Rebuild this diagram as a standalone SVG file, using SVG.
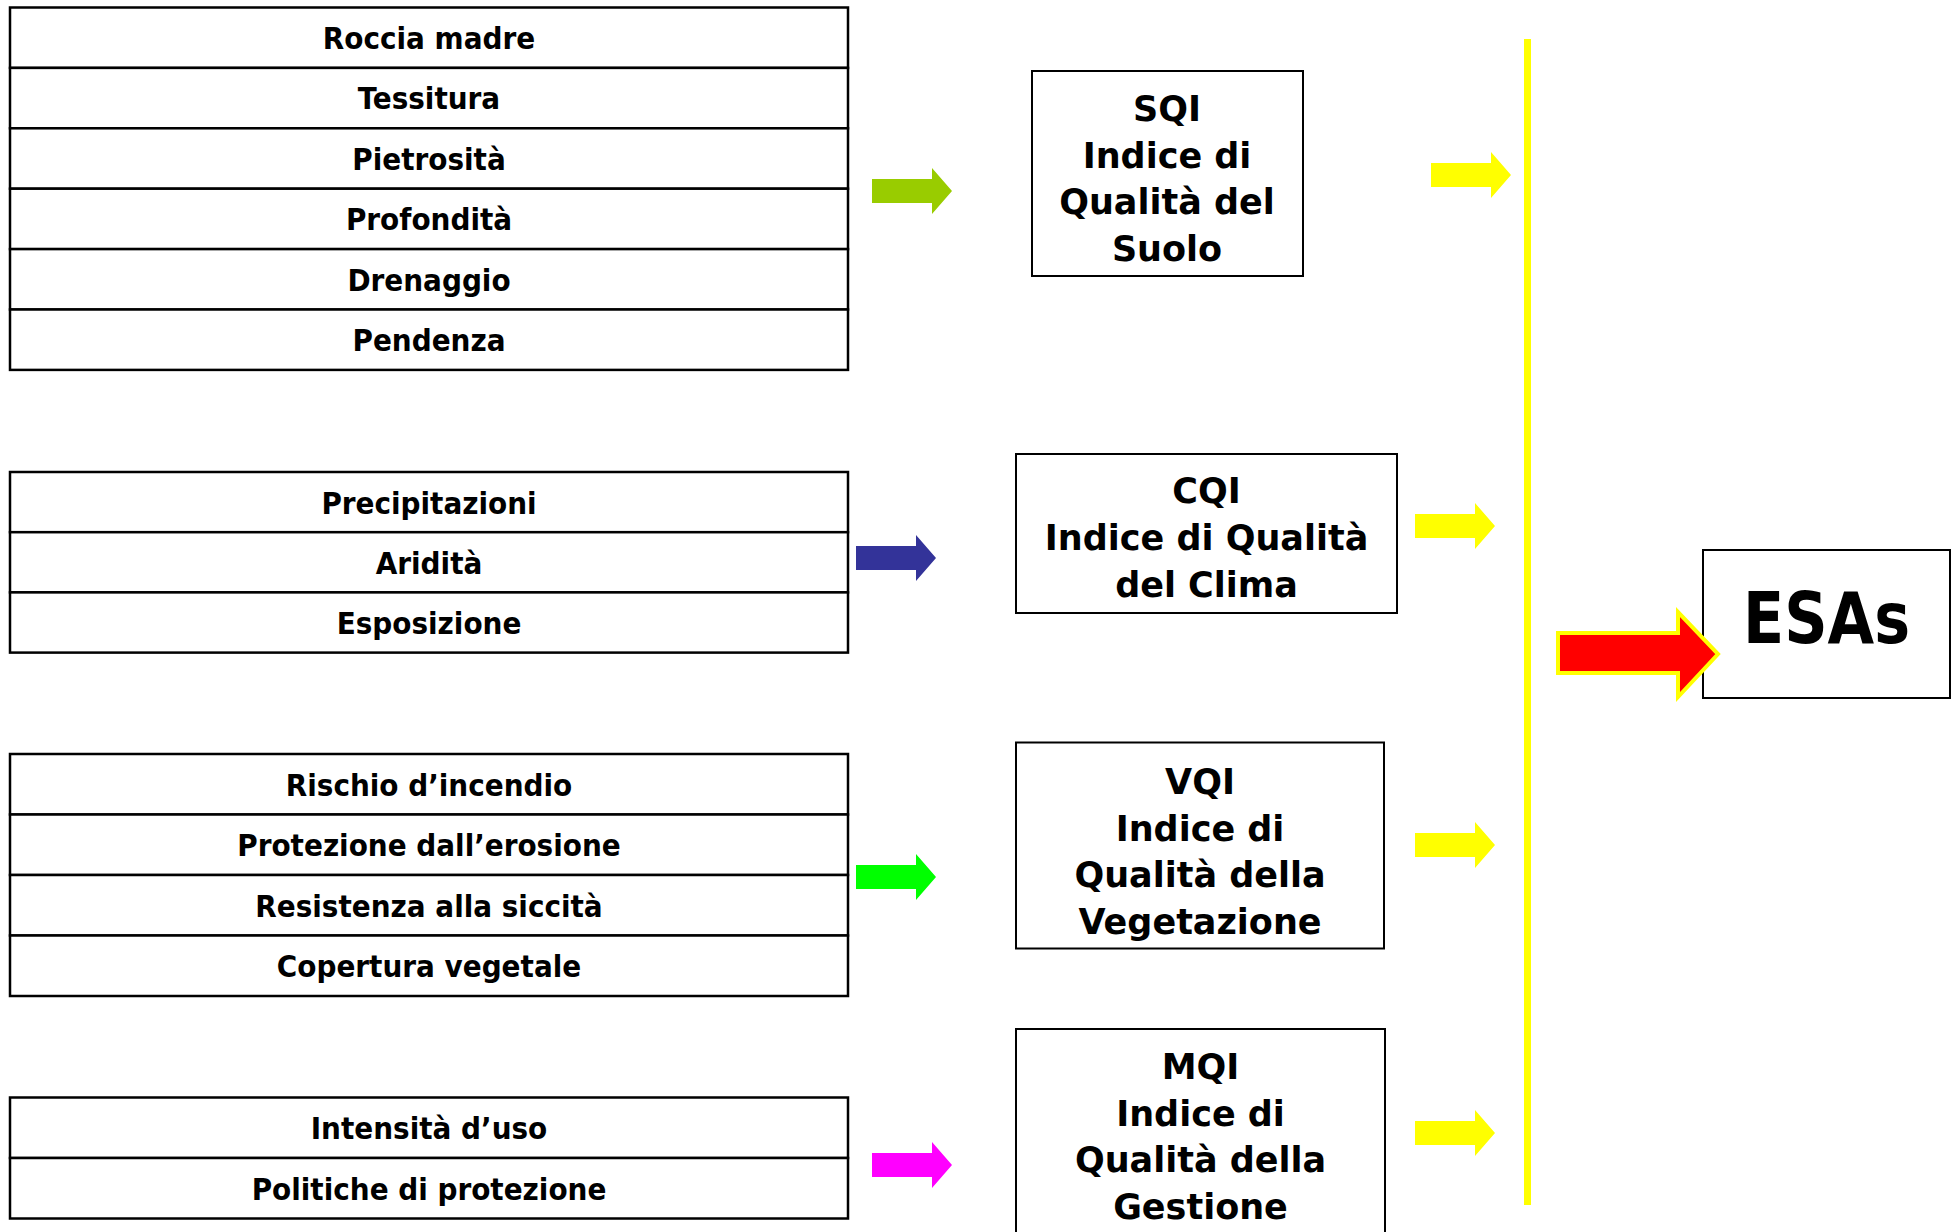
<svg xmlns="http://www.w3.org/2000/svg" width="1958" height="1232" viewBox="0 0 1958 1232">
<style>
.row{fill:#fff;stroke:#000;stroke-width:2.5}
.rt{font-family:'DejaVu Sans Condensed','DejaVu Sans',sans-serif;font-stretch:condensed;font-weight:bold;font-size:31px;text-anchor:middle;fill:#000}
.box{fill:#fff;stroke:#000;stroke-width:2}
.bt{font-family:'Comic Sans MS','DejaVu Sans',sans-serif;font-weight:bold;font-size:35px;text-anchor:middle;fill:#000}
.yl{fill:#FFFF00}
</style>
<defs>
<path id="arr" d="M0,-12 H60 V-23 L80,0 L60,23 V12 H0 Z"/>
</defs>
<rect width="1958" height="1232" fill="#fff"/>

<g id="soil-table">
<rect class="row" x="10" y="7.5" width="838" height="60.4"/>
<rect class="row" x="10" y="67.9" width="838" height="60.4"/>
<rect class="row" x="10" y="128.3" width="838" height="60.4"/>
<rect class="row" x="10" y="188.7" width="838" height="60.4"/>
<rect class="row" x="10" y="249.1" width="838" height="60.4"/>
<rect class="row" x="10" y="309.5" width="838" height="60.4"/>
<text class="rt" x="429" y="49">Roccia madre</text>
<text class="rt" x="429" y="109.4">Tessitura</text>
<text class="rt" x="429" y="169.8">Pietrosità</text>
<text class="rt" x="429" y="230.2">Profondità</text>
<text class="rt" x="429" y="290.6">Drenaggio</text>
<text class="rt" x="429" y="351">Pendenza</text>
</g>

<g id="climate-table">
<rect class="row" x="10" y="472" width="838" height="60.2"/>
<rect class="row" x="10" y="532.2" width="838" height="60.2"/>
<rect class="row" x="10" y="592.4" width="838" height="60.2"/>
<text class="rt" x="429" y="513.5">Precipitazioni</text>
<text class="rt" x="429" y="573.7">Aridità</text>
<text class="rt" x="429" y="633.9">Esposizione</text>
</g>

<g id="vegetation-table">
<rect class="row" x="10" y="754" width="838" height="60.5"/>
<rect class="row" x="10" y="814.5" width="838" height="60.5"/>
<rect class="row" x="10" y="875" width="838" height="60.5"/>
<rect class="row" x="10" y="935.5" width="838" height="60.5"/>
<text class="rt" x="429" y="795.5">Rischio d’incendio</text>
<text class="rt" x="429" y="856">Protezione dall’erosione</text>
<text class="rt" x="429" y="916.5">Resistenza alla siccità</text>
<text class="rt" x="429" y="977">Copertura vegetale</text>
</g>

<g id="management-table">
<rect class="row" x="10" y="1097.5" width="838" height="60.5"/>
<rect class="row" x="10" y="1158" width="838" height="60.5"/>
<text class="rt" x="429" y="1139">Intensità d’uso</text>
<text class="rt" x="429" y="1199.5">Politiche di protezione</text>
</g>

<g id="SQI">
<rect class="box" x="1032" y="71" width="271" height="205"/>
<text class="bt" x="1167" y="121">SQI</text>
<text class="bt" x="1167" y="167.5">Indice di</text>
<text class="bt" x="1167" y="214">Qualità del</text>
<text class="bt" x="1167" y="260.5">Suolo</text>
</g>

<g id="CQI">
<rect class="box" x="1016" y="454" width="381" height="159"/>
<text class="bt" x="1206.5" y="503">CQI</text>
<text class="bt" x="1206.5" y="550">Indice di Qualità</text>
<text class="bt" x="1206.5" y="597">del Clima</text>
</g>

<g id="VQI">
<rect class="box" x="1016" y="742.5" width="368" height="206"/>
<text class="bt" x="1200" y="794">VQI</text>
<text class="bt" x="1200" y="840.5">Indice di</text>
<text class="bt" x="1200" y="887">Qualità della</text>
<text class="bt" x="1200" y="933.5">Vegetazione</text>
</g>

<g id="MQI">
<rect class="box" x="1016" y="1029" width="369" height="230"/>
<text class="bt" x="1200.5" y="1079">MQI</text>
<text class="bt" x="1200.5" y="1125.5">Indice di</text>
<text class="bt" x="1200.5" y="1172">Qualità della</text>
<text class="bt" x="1200.5" y="1218.5">Gestione</text>
</g>

<g id="ESAs">
<rect class="box" x="1703" y="550" width="247" height="148"/>
<text x="1826.5" y="643" font-family="'Comic Sans MS','DejaVu Sans',sans-serif" font-weight="bold" font-size="72" text-anchor="middle" textLength="167" lengthAdjust="spacingAndGlyphs">ESAs</text>
</g>

<g id="connectors">
<use href="#arr" x="872" y="191" fill="#99CC00"/>
<use href="#arr" x="856" y="558" fill="#333399"/>
<use href="#arr" x="856" y="877" fill="#00FF00"/>
<use href="#arr" x="872" y="1165" fill="#FF00FF"/>
<use href="#arr" x="1431" y="175" class="yl"/>
<use href="#arr" x="1415" y="526" class="yl"/>
<use href="#arr" x="1415" y="845" class="yl"/>
<use href="#arr" x="1415" y="1133" class="yl"/>
<rect x="1524" y="39" width="7" height="1166" fill="#FFFF00"/>
<path d="M1558,633 H1678 V612 L1718,654 L1678,697 V673 H1558 Z" fill="#FF0000" stroke="#FFFF00" stroke-width="4"/>
</g>
</svg>
